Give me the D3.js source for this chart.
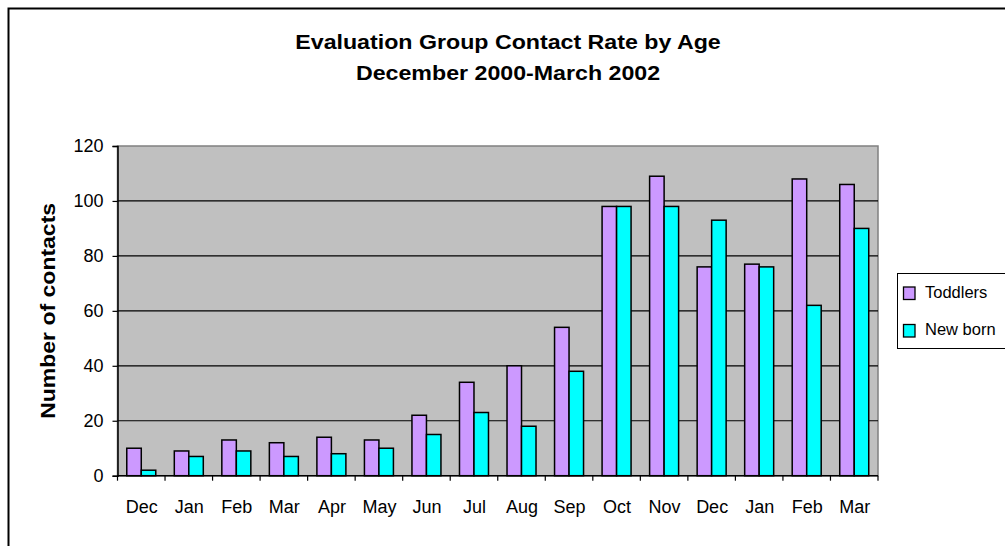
<!DOCTYPE html>
<html>
<head>
<meta charset="utf-8">
<script src="https://cdn.jsdelivr.net/npm/d3@7"></script>
<style>
  body { margin: 0; background: #fff; }
  svg { display: block; font-family: "Liberation Sans", Arial, sans-serif; }
</style>
</head>
<body>
<div id="chart"></div>
<script>
// Data
const months = ["Dec", "Jan", "Feb", "Mar", "Apr", "May", "Jun", "Jul",
                "Aug", "Sep", "Oct", "Nov", "Dec", "Jan", "Feb", "Mar"];
const toddlers = [10, 9, 13, 12, 14, 13, 22, 34, 40, 54, 98, 109, 76, 77, 108, 106];
const newborn  = [2, 7, 9, 7, 8, 10, 15, 23, 18, 38, 98, 98, 93, 76, 62, 90];
const seriesNames = ["Toddlers", "New born"];
const seriesColors = ["#cc99ff", "#00ffff"];
const yTicks = [0, 20, 40, 60, 80, 100, 120];

const W = 1005, H = 546;
const plot = { left: 117.5, top: 146, right: 878, bottom: 475.7 };

const svg = d3.select("#chart").append("svg")
    .attr("width", W)
    .attr("height", H);

// outer chart frame (runs off the right and bottom edges)
svg.append("rect")
    .attr("x", 8.5).attr("y", 8.5)
    .attr("width", W + 20).attr("height", H + 20)
    .attr("fill", "#fff")
    .attr("stroke", "#000")
    .attr("stroke-width", 2);

// title (the original glyphs are a bit wider than Arial, so stretch horizontally)
const title = svg.append("text")
    .attr("transform", "translate(508,0) scale(1.16,1)")
    .attr("text-anchor", "middle")
    .attr("font-weight", "bold")
    .attr("font-size", "20px")
    .attr("fill", "#000");
title.append("tspan").attr("x", 0).attr("y", 49).text("Evaluation Group Contact Rate by Age");
title.append("tspan").attr("x", 0).attr("y", 80).text("December 2000-March 2002");

// scales
const rows = months.map((m, i) => ({ i, month: m, values: [toddlers[i], newborn[i]] }));

const x0 = d3.scaleBand()
    .domain(d3.range(months.length))
    .range([plot.left, plot.right])
    .paddingInner(0.39)
    .paddingOuter(0.195);

const x1 = d3.scaleBand()
    .domain([0, 1])
    .range([0, x0.bandwidth()]);

const y = d3.scaleLinear()
    .domain([0, 120])
    .range([plot.bottom, plot.top]);

// plot background
svg.append("rect")
    .attr("x", plot.left).attr("y", plot.top)
    .attr("width", plot.right - plot.left)
    .attr("height", plot.bottom - plot.top)
    .attr("fill", "#c0c0c0")
    .attr("stroke", "#808080")
    .attr("stroke-width", 1.5);

// gridlines
svg.append("g")
    .selectAll("line")
    .data(yTicks.filter(t => t > 0 && t < 120))
    .join("line")
    .attr("x1", plot.left).attr("x2", plot.right)
    .attr("y1", d => y(d)).attr("y2", d => y(d))
    .attr("stroke", "#000")
    .attr("stroke-width", 1.2);

// bars
svg.append("g")
    .selectAll("g")
    .data(rows)
    .join("g")
    .attr("transform", d => `translate(${x0(d.i)},0)`)
    .selectAll("rect")
    .data(d => d.values.map((v, k) => ({ k, v })))
    .join("rect")
    .attr("x", d => x1(d.k))
    .attr("y", d => y(d.v))
    .attr("width", x1.bandwidth())
    .attr("height", d => y(0) - y(d.v))
    .attr("fill", d => seriesColors[d.k])
    .attr("stroke", "#000")
    .attr("stroke-width", 1.5);

// y axis
const yAxis = svg.append("g")
    .attr("transform", `translate(${plot.left},0)`)
    .call(d3.axisLeft(y).tickValues(yTicks).tickSize(5).tickPadding(9));
yAxis.select(".domain").attr("stroke", "#000").attr("stroke-width", 1.5);
yAxis.selectAll(".tick line").attr("stroke", "#000").attr("stroke-width", 1.2);
yAxis.selectAll("text")
    .attr("font-size", "18px")
    .attr("fill", "#000")
    .attr("font-family", "Liberation Sans, Arial, sans-serif");

// x axis: ticks at category boundaries, labels centred in each category
const boundaries = d3.range(months.length + 1).map(i => plot.left + i * (plot.right - plot.left) / months.length);
const xAxis = svg.append("g");
xAxis.append("line")
    .attr("x1", plot.left).attr("x2", plot.right)
    .attr("y1", plot.bottom).attr("y2", plot.bottom)
    .attr("stroke", "#000").attr("stroke-width", 1.5);
xAxis.selectAll("line.tick")
    .data(boundaries)
    .join("line")
    .attr("class", "tick")
    .attr("x1", d => d).attr("x2", d => d)
    .attr("y1", plot.bottom).attr("y2", plot.bottom + 5)
    .attr("stroke", "#000").attr("stroke-width", 1.2);
xAxis.selectAll("text")
    .data(rows)
    .join("text")
    .attr("x", d => x0(d.i) + x0.bandwidth() / 2 + 0.5)
    .attr("y", 513)
    .attr("text-anchor", "middle")
    .attr("font-size", "18px")
    .attr("fill", "#000")
    .text(d => d.month);

// y axis title
svg.append("text")
    .attr("transform", `translate(55,${(plot.top + plot.bottom) / 2}) rotate(-90) scale(1.15,1)`)
    .attr("text-anchor", "middle")
    .attr("font-size", "20px")
    .attr("font-weight", "bold")
    .attr("fill", "#000")
    .text("Number of contacts");

// legend
const legend = svg.append("g");
legend.append("rect")
    .attr("x", 897.5).attr("y", 273.5)
    .attr("width", 130).attr("height", 75)
    .attr("fill", "#fff")
    .attr("stroke", "#000")
    .attr("stroke-width", 1);

seriesNames.forEach((name, k) => {
    const gy = 287 + k * 37.5;
    legend.append("rect")
        .attr("x", 903.5).attr("y", gy)
        .attr("width", 11.5).attr("height", 12.5)
        .attr("fill", seriesColors[k])
        .attr("stroke", "#000")
        .attr("stroke-width", 1.3);
    legend.append("text")
        .attr("x", 925)
        .attr("y", gy + 10.5)
        .attr("font-size", "16.5px")
        .attr("fill", "#000")
        .text(name);
});
</script>
</body>
</html>
